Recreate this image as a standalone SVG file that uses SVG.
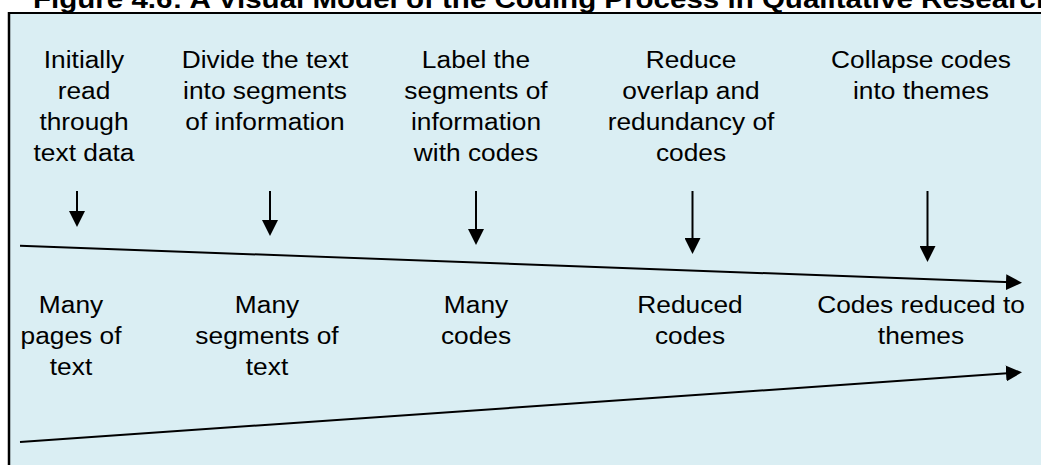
<svg xmlns="http://www.w3.org/2000/svg" width="1041" height="465" viewBox="0 0 1041 465">
  <style>
    .t { font-family: "Liberation Sans", Arial, sans-serif; font-size: 23.5px; fill: #000; text-anchor: middle; }
    .title { font-family: "Liberation Sans", Arial, sans-serif; font-size: 26px; font-weight: bold; fill: #000; }
    .ln { stroke: #000; stroke-width: 2; fill: none; }
  </style>
  <defs>
    <marker id="ah" markerWidth="16" markerHeight="16" refX="13" refY="8" orient="auto" markerUnits="userSpaceOnUse">
      <path d="M0,0 L16,8 L0,16 z" fill="#000"/>
    </marker>
  </defs>
  <rect x="0" y="0" width="1041" height="465" fill="#ffffff"/>
  <rect x="10" y="14" width="1031" height="451" fill="#DAEEF3"/>
  <line x1="9" y1="12" x2="9" y2="465" stroke="#000" stroke-width="2.5"/>
  <line x1="8" y1="13" x2="1041" y2="13" stroke="#000" stroke-width="2"/>

  <g id="title" transform="matrix(1.136 0 0 1 33 0)">
    <text class="title" x="0" y="7.5">Figure 4.6: A Visual Model of the Coding Process in Qualitative Research</text>
  </g>

  <g id="step1" transform="matrix(1.12 0 0 1 84 0)">
    <text class="t" x="0" y="68">Initially</text>
    <text class="t" x="0" y="99">read</text>
    <text class="t" x="0" y="130">through</text>
    <text class="t" x="0" y="161">text data</text>
  </g>
  <g id="step2" transform="matrix(1.12 0 0 1 265 0)">
    <text class="t" x="0" y="68">Divide the text</text>
    <text class="t" x="0" y="99">into segments</text>
    <text class="t" x="0" y="130">of information</text>
  </g>
  <g id="step3" transform="matrix(1.12 0 0 1 476 0)">
    <text class="t" x="0" y="68">Label the</text>
    <text class="t" x="0" y="99">segments of</text>
    <text class="t" x="0" y="130">information</text>
    <text class="t" x="0" y="161">with codes</text>
  </g>
  <g id="step4" transform="matrix(1.12 0 0 1 691 0)">
    <text class="t" x="0" y="68">Reduce</text>
    <text class="t" x="0" y="99">overlap and</text>
    <text class="t" x="0" y="130">redundancy of</text>
    <text class="t" x="0" y="161">codes</text>
  </g>
  <g id="step5" transform="matrix(1.12 0 0 1 921 0)">
    <text class="t" x="0" y="68">Collapse codes</text>
    <text class="t" x="0" y="99">into themes</text>
  </g>

  <g id="result1" transform="matrix(1.12 0 0 1 71 0)">
    <text class="t" x="0" y="313">Many</text>
    <text class="t" x="0" y="344">pages of</text>
    <text class="t" x="0" y="375">text</text>
  </g>
  <g id="result2" transform="matrix(1.12 0 0 1 267 0)">
    <text class="t" x="0" y="313">Many</text>
    <text class="t" x="0" y="344">segments of</text>
    <text class="t" x="0" y="375">text</text>
  </g>
  <g id="result3" transform="matrix(1.12 0 0 1 476 0)">
    <text class="t" x="0" y="313">Many</text>
    <text class="t" x="0" y="344">codes</text>
  </g>
  <g id="result4" transform="matrix(1.12 0 0 1 690 0)">
    <text class="t" x="0" y="313">Reduced</text>
    <text class="t" x="0" y="344">codes</text>
  </g>
  <g id="result5" transform="matrix(1.12 0 0 1 921 0)">
    <text class="t" x="0" y="313">Codes reduced to</text>
    <text class="t" x="0" y="344">themes</text>
  </g>

  <g id="connectors">
    <line class="ln" x1="77" y1="191" x2="77" y2="224" marker-end="url(#ah)"/>
    <line class="ln" x1="270" y1="191" x2="270" y2="233" marker-end="url(#ah)"/>
    <line class="ln" x1="476" y1="191" x2="476" y2="242" marker-end="url(#ah)"/>
    <line class="ln" x1="692.5" y1="191" x2="692.5" y2="251" marker-end="url(#ah)"/>
    <line class="ln" x1="927.5" y1="191" x2="927.5" y2="259" marker-end="url(#ah)"/>
    <line class="ln" x1="20" y1="245.7" x2="1019" y2="282.6" marker-end="url(#ah)"/>
    <line class="ln" x1="20" y1="442" x2="1019" y2="372.5" marker-end="url(#ah)"/>
  </g>
</svg>
